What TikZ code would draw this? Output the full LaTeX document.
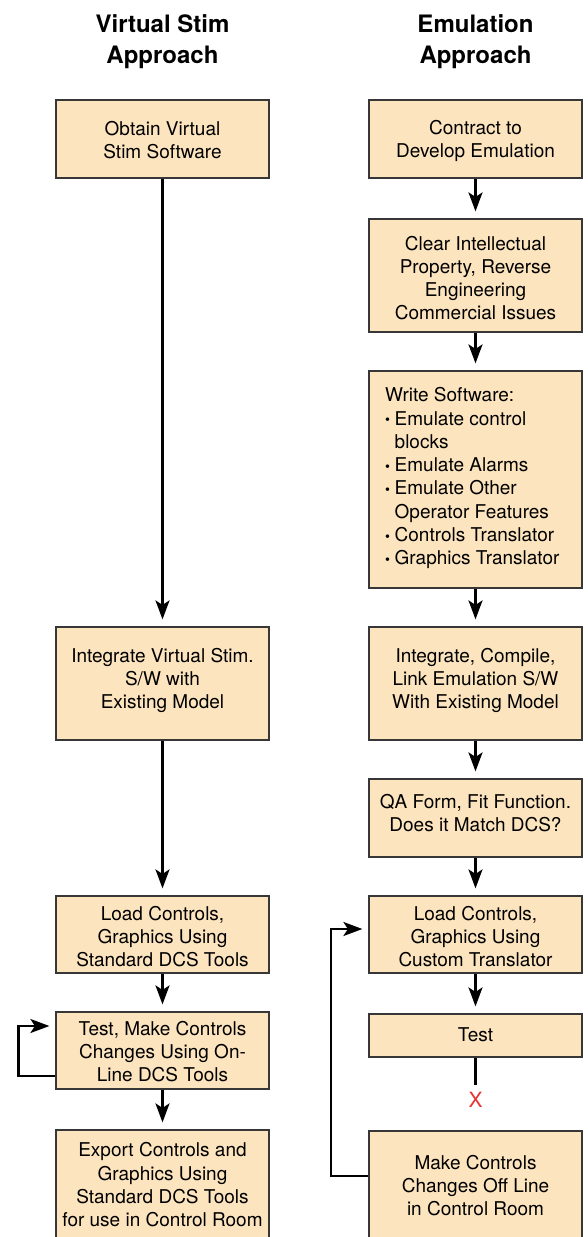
\documentclass[tikz,border=0pt]{standalone}
\usepackage{fontspec}
\setmainfont{TeX Gyre Heros}
\usetikzlibrary{arrows.meta}
\definecolor{boxfill}{RGB}{252,228,190}
\definecolor{boxline}{RGB}{55,55,55}
\definecolor{stopred}{RGB}{232,52,52}
\newcommand\bodyfont{\fontsize{19}{23.3}\selectfont}
\newcommand\headfont{\fontsize{24}{31}\selectfont\bfseries}
\newcommand\blt{\makebox[9.5pt][l]{\raisebox{0.5pt}{\fontsize{14}{14}\selectfont •}}}
\newcommand\hang{\hspace*{9.5pt}}
\begin{document}
% text nodes are placed by the baseline of their last line
\begin{tikzpicture}[x=1pt,y=-1pt,
  stepbox/.style={draw=boxline, fill=boxfill, line width=1.2pt, inner sep=0pt,
    minimum width=213pt},
  lbl/.style={font=\bodyfont, align=center, anchor=base, inner sep=0pt},
  head/.style={font=\headfont, align=center, anchor=base, inner sep=0pt},
  tip/.style={-{Stealth[length=19pt,width=14pt,inset=4.5pt]}},
  flow/.style={line width=2.3pt, tip, shorten >=7pt},
  loop/.style={line width=2.3pt, tip, shorten >=6pt}]
\useasboundingbox (0,0) rectangle (588,1237);

% column headings
\node[head] (hl) at (162.5,63) {Virtual Stim\\Approach};
\node[head] (hr) at (475.5,63) {Emulation\\Approach};

% Virtual Stim column boxes
\node[stepbox, minimum height=78pt]  (L1) at (162.5,139) {};
\node[stepbox, minimum height=113pt] (L2) at (162.5,683.5) {};
\node[stepbox, minimum height=77pt]  (L3) at (162.5,934.5) {};
\node[stepbox, minimum height=77pt]  (L4) at (162.5,1050.5) {};
\node[stepbox, minimum height=110pt] (L5) at (162.5,1185) {};

% Emulation column boxes
\node[stepbox, minimum height=78pt]  (R1) at (475.5,139) {};
\node[stepbox, minimum height=113pt] (R2) at (475.5,275.5) {};
\node[stepbox, minimum height=217pt] (R3) at (475.5,479.5) {};
\node[stepbox, minimum height=113pt] (R4) at (475.5,683.5) {};
\node[stepbox, minimum height=78pt]  (R5) at (475.5,818) {};
\node[stepbox, minimum height=77pt]  (R6) at (475.5,934.5) {};
\node[stepbox, minimum height=43pt]  (R7) at (475.5,1035.5) {};
\node[stepbox, minimum height=109pt] (R8) at (475.5,1185.5) {};

% box texts
\node[lbl] (tL1) at (162.5,158.3) {Obtain Virtual\\Stim Software};
\node[lbl] (tL2) at (162.5,708.6) {Integrate Virtual Stim.\\S/W with\\Existing Model};
\node[lbl] (tL3) at (162.5,966.6) {Load Controls,\\Graphics Using\\Standard DCS Tools};
\node[lbl] (tL4) at (162.5,1081.6) {Test, Make Controls\\Changes Using On-\\Line DCS Tools};
\node[lbl] (tL5) at (162.5,1226.6) {Export Controls and\\Graphics Using\\Standard DCS Tools\\for use in Control Room};

\node[lbl] (tR1) at (475.5,157.8) {Contract to\\Develop Emulation};
\node[lbl] (tR2) at (475.5,319.9) {Clear Intellectual\\Property, Reverse\\Engineering\\Commercial Issues};
\node[lbl, align=left, anchor=base west] (tR3) at (385,564.8)
  {Write Software:\\
   \blt Emulate control\\
   \hang blocks\\
   \blt Emulate Alarms\\
   \blt Emulate Other\\
   \hang Operator Features\\
   \blt Controls Translator\\
   \blt Graphics Translator};
\node[lbl] (tR4) at (475.5,708.6) {Integrate, Compile,\\Link Emulation S/W\\With Existing Model};
\node[lbl] (tR5) at (475.5,831.8) {QA Form, Fit Function.\\Does it Match DCS?};
\node[lbl] (tR6) at (475.5,966.6) {Load Controls,\\Graphics Using\\Custom Translator};
\node[lbl] (tR7) at (475.5,1041.7) {Test};
\node[lbl] (tR8) at (475.5,1215.9) {Make Controls\\Changes Off Line\\in Control Room};

% dead end below the emulation test
\node[font=\fontsize{21}{21}\selectfont, text=stopred, inner sep=0pt] (X) at (475.5,1100) {X};

% Virtual Stim flow
\draw[flow] (L1.south) -- (L2.north);
\draw[flow] (L2.south) -- (L3.north);
\draw[flow] (L3.south) -- (L4.north);
\draw[flow] (L4.south) -- (L5.north);
\draw[loop] ([yshift=-25.5pt]L4.west) -- ++(-37,0) |- ([yshift=24.5pt]L4.west);

% Emulation flow
\draw[flow] (R1.south) -- (R2.north);
\draw[flow] (R2.south) -- (R3.north);
\draw[flow] (R3.south) -- (R4.north);
\draw[flow] (R4.south) -- (R5.north);
\draw[flow] (R5.south) -- (R6.north);
\draw[flow] (R6.south) -- (R7.north);
\draw[line width=2.3pt, shorten >=7pt] (R7.south) -- (X.north);
\draw[loop] ([yshift=9.5pt]R8.west) -- ++(-37.5,0) |- ([yshift=5.5pt]R6.west);
\end{tikzpicture}
\end{document}
